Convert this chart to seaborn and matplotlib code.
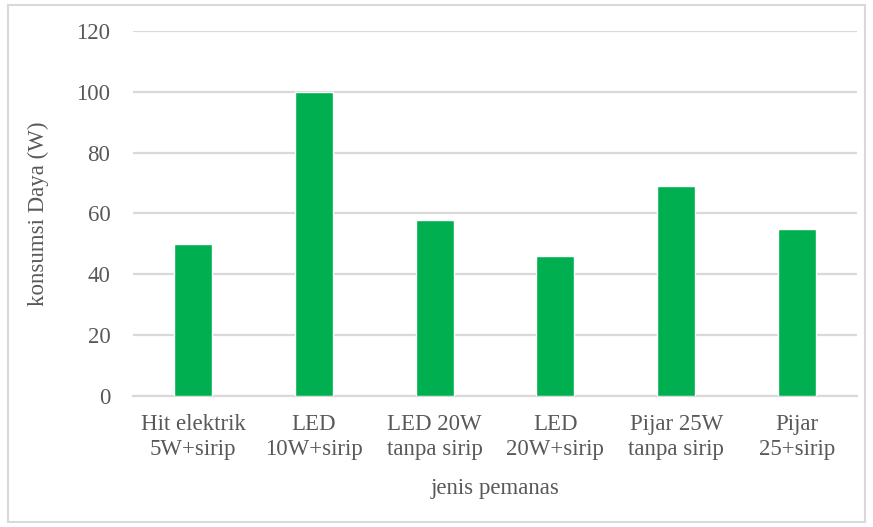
import matplotlib
matplotlib.use("Agg")
import matplotlib.pyplot as plt
import seaborn as sns
import pandas as pd
from matplotlib.patches import Rectangle

# data
jenis = ["Hit elektrik\n5W+sirip", "LED\n10W+sirip", "LED 20W\ntanpa sirip",
         "LED\n20W+sirip", "Pijar 25W\ntanpa sirip", "Pijar\n25+sirip"]
daya = [50, 100, 58, 46, 69, 55]
yticks = [0, 20, 40, 60, 80, 100, 120]

df = pd.DataFrame({"jenis": jenis, "daya": daya})

sns.set_theme(style="white")
plt.rcParams["font.family"] = ["Liberation Serif", "DejaVu Serif"]
txt = "#595959"
grid = "#D9D9D9"

fig = plt.figure(figsize=(8.73, 5.27), dpi=100)
ax = fig.add_axes([0.152, 0.249, 0.830, 0.692])

sns.barplot(data=df, x="jenis", y="daya", color="#00B050", width=0.315,
            saturation=1, ax=ax, zorder=3)

ax.set_ylim(0, 120)
ax.set_yticks(yticks)
ax.set_xlim(-0.5, len(jenis) - 0.5)
ax.yaxis.grid(True, color=grid, linewidth=1.6, zorder=0)
ax.set_axisbelow(True)
for s in ["top", "right", "left"]:
    ax.spines[s].set_visible(False)
ax.spines["bottom"].set_color(grid)
ax.spines["bottom"].set_linewidth(1.6)

ax.tick_params(axis="both", length=0, labelsize=16.5, colors=txt)
ax.tick_params(axis="y", pad=16)
ax.tick_params(axis="x", pad=13)
for lab in ax.get_xticklabels():
    lab.set_linespacing(1.25)

ax.set_xlabel("jenis pemanas", fontsize=16.5, color=txt, labelpad=13)
ax.set_ylabel("konsumsi Daya (W)", fontsize=16.5, color=txt, labelpad=20)

# light border round the whole chart, like the Excel chart area
fig.patches.append(Rectangle((8 / 873, 5 / 527), 857 / 873, 517 / 527,
                             transform=fig.transFigure, fill=False,
                             edgecolor=grid, linewidth=1.5))

fig.savefig("out.png", dpi=100)
